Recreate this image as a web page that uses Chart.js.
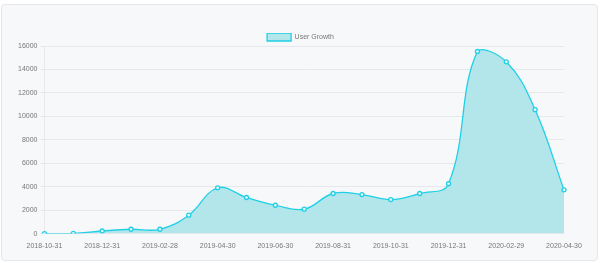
<!DOCTYPE html>
<html>
<head>
<meta charset="utf-8">
<script src="https://cdn.jsdelivr.net/npm/chart.js@4"></script>
<style>
  html, body { margin: 0; padding: 0; background: #fff; }
  .card {
    position: absolute; left: 1px; top: 4px; width: 595px; height: 255px;
    background: #f7f8fa; border: 1px solid #e4e6ea; border-radius: 4px;
  }
  .wrap { position: absolute; left: 0; top: 0; width: 601px; height: 263px; }
</style>
</head>
<body>
<div class="card"></div>
<div class="wrap"><canvas id="growthChart"></canvas></div>
<script>
// monthly user growth
const months = [
    '2018-10-31', '2018-11-30', '2018-12-31', '2019-01-31', '2019-02-28', '2019-03-31',
    '2019-04-30', '2019-05-31', '2019-06-30', '2019-07-31', '2019-08-31', '2019-09-30',
    '2019-10-31', '2019-11-30', '2019-12-31', '2020-01-31', '2020-02-29', '2020-03-31',
    '2020-04-30'
];
const users = [
    0, 20, 220, 370, 370, 1570,
    3900, 3080, 2420, 2080, 3420, 3330,
    2900, 3420, 4250, 15530, 14650, 10570,
    3730
];
const yTicks = [0, 2000, 4000, 6000, 8000, 10000, 12000, 14000, 16000];

const textColor = '#777';
const gridColor = '#e6e8eb';
const font = { family: 'Arial, "Liberation Sans", sans-serif', size: 7 };

// tighten the gap under the legend a bit
const legendGap = {
    id: 'legendGap',
    beforeLayout(chart) {
        const lg = chart.legend;
        if (!lg || lg._tight) return;
        const fit = lg.fit.bind(lg);
        lg.fit = function () { fit(); this.height -= 5; };
        lg._tight = true;
    }
};

new Chart(document.getElementById('growthChart'), {
    type: 'line',
    data: {
        labels: months,
        datasets: [{
            label: 'User Growth',
            data: users,
            fill: true,
            tension: 0.4,
            borderColor: '#1fd0e6',
            backgroundColor: '#b2e6ea',
            borderWidth: 1.3,
            pointRadius: 2,
            pointBorderWidth: 1.3,
            pointBackgroundColor: '#e9f8fa',
            pointBorderColor: '#1fd0e6'
        }]
    },
    options: {
        responsive: true,
        maintainAspectRatio: false,
        animation: false,
        // symmetric padding keeps the legend centred on the card
        layout: { padding: { left: 15, right: 15, top: 33, bottom: 13 } },
        plugins: {
            legend: {
                labels: { color: textColor, font: font, boxWidth: 24, boxHeight: 8, padding: 0 }
            },
            tooltip: { enabled: false }
        },
        scales: {
            x: {
                grid: { display: false },
                border: { display: false },
                afterFit: axis => { axis.paddingRight = 37; },
                ticks: {
                    color: textColor, font: font, maxRotation: 0, autoSkip: false, padding: 0,
                    callback: function (v, i) { return i % 2 === 0 ? months[i] : null; }
                }
            },
            y: {
                min: yTicks[0],
                max: yTicks[yTicks.length - 1],
                afterBuildTicks: axis => { axis.ticks = yTicks.map(v => ({ value: v })); },
                grid: { color: gridColor, tickLength: 4 },
                border: { color: gridColor },
                ticks: { color: textColor, font: font, padding: 3, callback: v => String(v) }
            }
        }
    },
    plugins: [legendGap]
});
</script>
</body>
</html>
